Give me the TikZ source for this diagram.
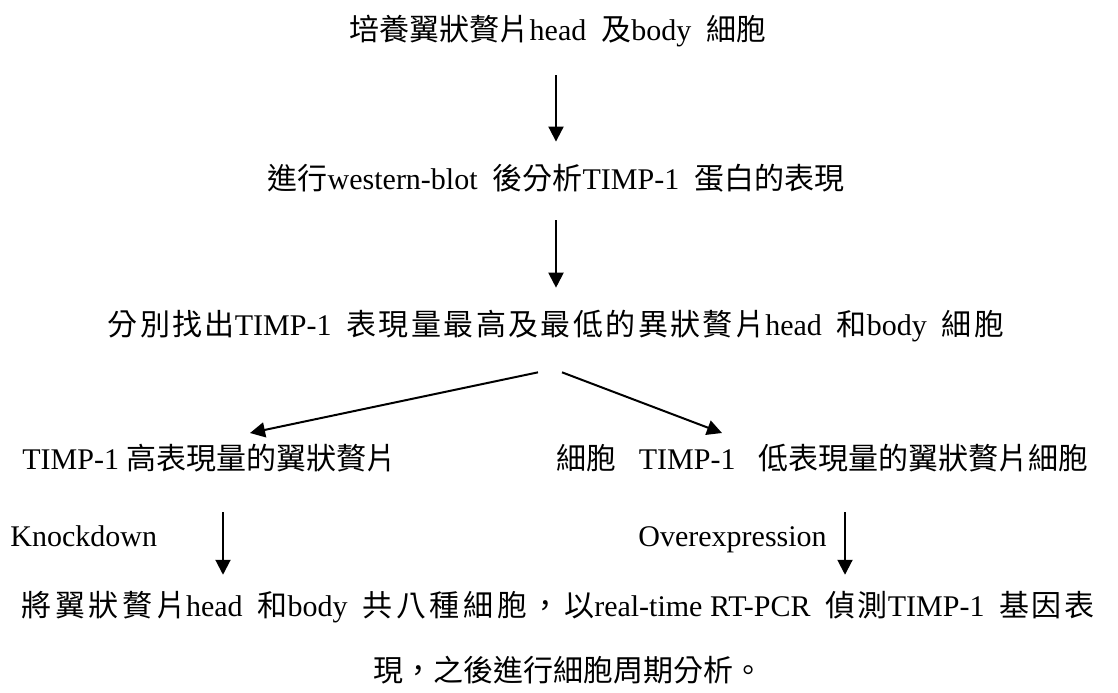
\documentclass[tikz,border=0pt]{standalone}
\usepackage{fontspec}
\setmainfont{Liberation Serif}
\newfontfamily\zhfont{Noto Sans CJK TC}
\newcommand{\zh}[1]{{\zhfont #1}}
\newcommand{\zhs}[1]{{\zhfont\addfontfeature{LetterSpace=8}#1}}
\usetikzlibrary{arrows.meta}

\begin{document}
\begin{tikzpicture}[x=0.5pt,y=-0.5pt,
    txt/.style={inner sep=0pt,font=\fontsize{15}{18}\selectfont},
    arr/.style={line width=1pt,-{Triangle[length=7.5pt,width=7.5pt]}},
    down/.style={arr,shorten <=14pt,shorten >=11pt}]
    \useasboundingbox (0,0) rectangle (1118,692);

    \node[txt] (culture) at (558,31) {\zh{培養翼狀贅片}head~~\zh{及}body~~\zh{細胞}};
    \node[txt] (blot) at (556,178) {\zh{進行}western-blot~~\zh{後分析}TIMP-1~~\zh{蛋白的表現}};
    \node[txt] (select) at (556,326) {\zhs{分別找出}TIMP-1~~\zhs{表現量最高及最低的異狀贅片}head~~\zhs{和}body~~\zhs{細胞}};
    \node[txt,anchor=west] (high) at (22,458) {TIMP-1~\zh{高表現量的翼狀贅片}};
    \node[txt,anchor=west] (low) at (556,458) {\zh{細胞}~~~TIMP-1~~~\zh{低表現量的翼狀贅片細胞}};
    \node[txt,anchor=base west] (knock) at (10,546) {Knockdown};
    \node[txt,anchor=base west] (over) at (638,546) {Overexpression};
    \node[txt] (pcr) at (558,607) {{\zhfont\addfontfeature{LetterSpace=12}將翼狀贅片}head~~\zhs{和}body~~{\zhfont\addfontfeature{LetterSpace=12}共八種細胞，以}real-time RT-PCR~~\zhs{偵測}TIMP-1~~\zhs{基因表}};
    \node[txt] (cycle) at (568,670) {\zh{現，之後進行細胞周期分析。}};

    \coordinate (tipL) at (250,433);
    \coordinate (tipR) at (722,433);
    \coordinate (kx) at (223,0);
    \coordinate (ox) at (845,0);

    \draw[down] (culture.south -| blot) -- (blot);
    \draw[down] (blot.south -| select) -- (select);
    \draw[arr] ([xshift=-9pt,yshift=-15pt]select.south) -- (tipL);
    \draw[arr] ([xshift=3pt,yshift=-15pt]select.south) -- (tipR);
    \draw[arr,shorten <=20pt,shorten >=8pt] (high.south -| kx) -- (pcr.north -| kx);
    \draw[arr,shorten <=20pt,shorten >=8pt] (low.south -| ox) -- (pcr.north -| ox);
\end{tikzpicture}
\end{document}
